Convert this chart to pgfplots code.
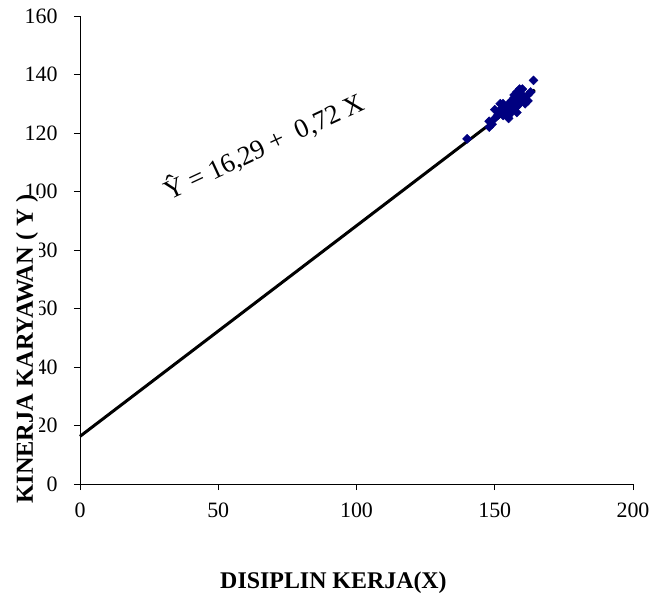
\documentclass[border=0pt]{standalone}
\usepackage{fontspec}
\setmainfont{Liberation Serif}
\usepackage{pgfplots}
\pgfplotsset{compat=1.18}
\definecolor{navy}{HTML}{000080}

\begin{document}
\begin{tikzpicture}
\begin{axis}[
  scale only axis, width=553bp, height=468bp,
  at={(0,0)}, anchor=south west,
  xmin=0, xmax=200, ymin=0, ymax=160,
  xtick={0,50,...,200}, ytick={0,20,...,160},
  axis lines=left, axis line style={-, line width=0.8bp},
  tick style={black, line width=0.8bp},
  tick align=outside, major tick length=6bp,
  ticklabel style={font=\fontsize{22}{26}\selectfont},
  /pgf/number format/assume math mode=true,
  xticklabel style={yshift=-9bp},
  yticklabel style={xshift=-13bp},
  clip=false,
]
  % respondents
  \addplot[only marks, mark=square*, mark size=3.2bp,
    mark options={rotate=45, fill=navy, draw=navy}] coordinates {
    (140,118) (148,122) (148,124) (149,123) (150,125) (150,128)
    (151,126) (152,127) (152,128) (152,130) (153,130) (153,126)
    (154,127) (154,129) (155,128) (155,126) (155,130) (155,125)
    (156,127) (156,129) (156,131) (157,128) (157,130) (157,132)
    (157,133) (158,129) (158,131) (158,134) (158,127) (159,130)
    (159,132) (159,135) (160,131) (160,133) (160,135) (161,130)
    (161,132) (162,131) (162,133) (163,134) (164,138)};
  % regression line
  \addplot[black, line width=3bp] coordinates {(0,16.29) (164.5,134.73)};
  \node[rotate=25, font=\fontsize{27}{32}\selectfont] at (axis cs:66.5,115.5)
    {Ŷ = 16,29 +~ 0,72 X};
\end{axis}
% axis title sits on top of the tick numbers, as in the original
\node[rotate=90, fill=white, inner xsep=0pt, inner ysep=0.5bp,
  font=\bfseries\fontsize{24.5}{29}\selectfont]
  at (-53bp,135bp) {KINERJA KARYAWAN ( Y )};
\node[font=\bfseries\fontsize{24}{28}\selectfont] at (253.5bp,-99bp) {DISIPLIN KERJA(X)};
\pgfresetboundingbox
\path[use as bounding box] (-80bp,-113bp) rectangle (574bp,484bp);
\end{tikzpicture}
\end{document}
